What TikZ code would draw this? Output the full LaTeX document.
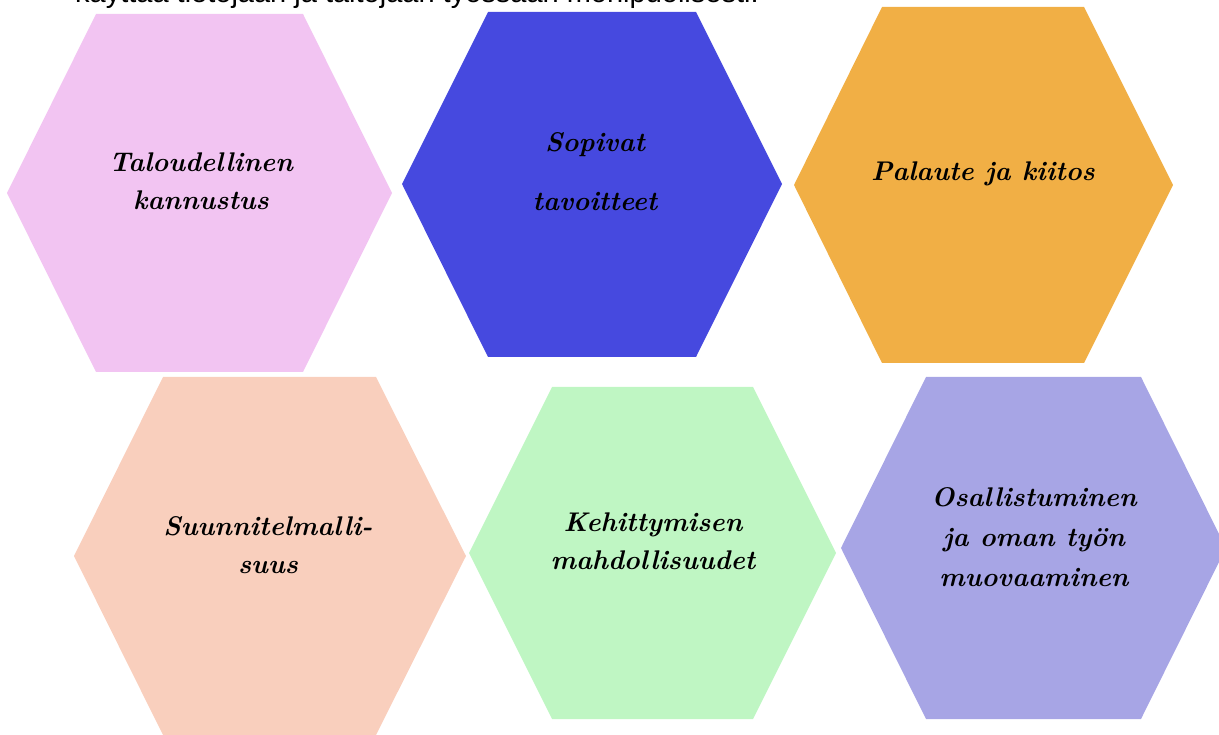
\documentclass[tikz,border=0pt]{standalone}
\usepackage{fontspec}
\newfontfamily\headfont{Liberation Sans}
\begin{document}
\begin{tikzpicture}[x=1pt,y=-1pt,
  hexlabel/.style={font=\fontsize{27}{38}\selectfont\bfseries\itshape, align=center, text=black, inner sep=0pt},
  headline/.style={font=\headfont\fontsize{29}{32}\selectfont, anchor=base west, inner sep=0pt}]
\definecolor{hexpink}{HTML}{F2C4F2}
\definecolor{hexblue}{HTML}{4649DF}
\definecolor{hexorange}{HTML}{F1AF45}
\definecolor{hexpeach}{HTML}{F9CFBD}
\definecolor{hexgreen}{HTML}{BFF6C3}
\definecolor{hexlavender}{HTML}{A7A5E5}
\useasboundingbox (0,0) rectangle (1219,735);
\clip (0,0) rectangle (1219,735);

% line of body text running above the hexagons
\node[headline] (head) at (75,3) {käyttää tietojaan ja taitojaan työssään monipuolisesti.};

% top row
\fill[hexpink] (96,14) -- (303,14) -- (392,193) -- (303,372) -- (96,372) -- (7,193) -- cycle;
\fill[hexblue] (488,12) -- (696,12) -- (782,184) -- (696,357) -- (488,357) -- (402,184) -- cycle;
\fill[hexorange] (882,7) -- (1084,7) -- (1173,185) -- (1084,363) -- (882,363) -- (794,185) -- cycle;
% bottom row
\fill[hexpeach] (163,377) -- (376,377) -- (466,556) -- (376,735) -- (163,735) -- (74,556) -- cycle;
\fill[hexgreen] (552,387) -- (753,387) -- (836,553) -- (753,719) -- (552,719) -- (469,553) -- cycle;
\fill[hexlavender] (926,377) -- (1141,377) -- (1226,548) -- (1141,719) -- (926,719) -- (841,548) -- cycle;

% labels
\node[hexlabel] (t1) at (201,181) {Taloudellinen\\kannustus};
\node[hexlabel, font=\fontsize{27}{59}\selectfont\bfseries\itshape] (t2) at (595,172) {Sopivat\\tavoitteet};
\node[hexlabel] (t3) at (983,174) {Palaute ja kiitos};
\node[hexlabel] (t4) at (268,545) {Suunnitelmalli-\\suus};
\node[hexlabel] (t5) at (653,541) {Kehittymisen\\mahdollisuudet};
\node[hexlabel, font=\fontsize{27}{40}\selectfont\bfseries\itshape] (t6) at (1034,537) {Osallistuminen\\ja oman työn\\muovaaminen};
\end{tikzpicture}
\end{document}
